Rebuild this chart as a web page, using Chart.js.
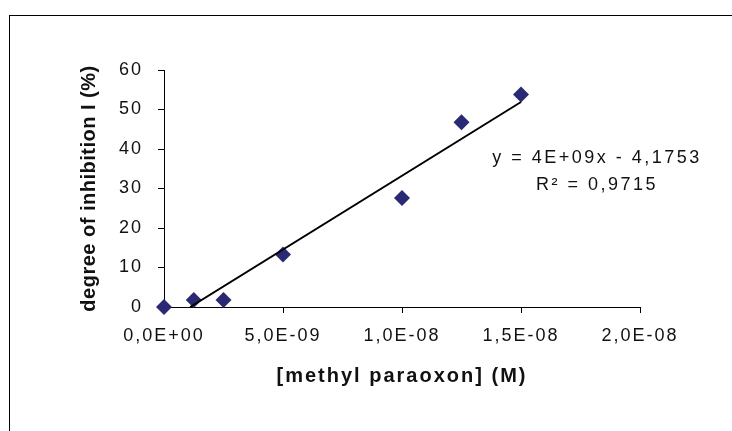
<!DOCTYPE html>
<html>
<head>
<meta charset="UTF-8">
<title>Methyl paraoxon inhibition</title>
<script src="https://cdn.jsdelivr.net/npm/chart.js"></script>
<style>
    body { margin: 0; padding: 0; background: #fff; }
    #wrap { width: 732px; height: 431px; }
</style>
</head>
<body>
<div id="wrap"><canvas id="chart" width="732" height="431"></canvas></div>
<script>
    // measured points
    const concentration = [0, 1.25e-9, 2.5e-9, 5e-9, 1e-8, 1.25e-8, 1.5e-8];
    const inhibition = [0, 1.8, 1.8, 13.3, 27.6, 46.8, 53.8];

    // trendline ends (clipped at y = 0)
    const trendX = [1.1e-9, 1.5e-8];
    const trendY = [0, 51.9];

    const xTicks = [0, 5e-9, 1e-8, 1.5e-8, 2e-8];
    const yTicks = [0, 10, 20, 30, 40, 50, 60];
    const equation = ['y = 4E+09x - 4,1753', 'R² = 0,9715'];
    const yTitle = 'degree of inhibition I (%)';

    const FONT = "'Liberation Sans', Arial, sans-serif";

    function sci(v) {
        // 5e-9 -> "5,0E-09"
        let [m, e] = v.toExponential(1).split('e');
        let n = parseInt(e, 10);
        let sign = n < 0 ? '-' : '+';
        return m.replace('.', ',') + 'E' + sign + String(Math.abs(n)).padStart(2, '0');
    }

    const extras = {
        id: 'extras',
        beforeLayout(chart) { chart.ctx.letterSpacing = '2px'; },
        beforeDraw(chart) {
            const ctx = chart.ctx;
            ctx.letterSpacing = '2px';
            // outer frame
            ctx.save();
            ctx.strokeStyle = '#000';
            ctx.lineWidth = 1;
            ctx.strokeRect(9.5, 15.5, 800, 500);
            ctx.restore();
        },
        afterDraw(chart) {
            const ctx = chart.ctx;
            const area = chart.chartArea;
            ctx.save();
            ctx.fillStyle = '#111';
            ctx.textAlign = 'center';
            ctx.textBaseline = 'middle';

            // trendline equation
            ctx.letterSpacing = '2.5px';
            ctx.font = '18px ' + FONT;
            ctx.fillText(equation[0], 597, 158);
            ctx.fillText(equation[1], 597, 185);

            // y axis title, tighter than the tick labels
            ctx.letterSpacing = '0.5px';
            ctx.font = 'bold 20px ' + FONT;
            ctx.translate(89, (area.top + area.bottom) / 2);
            ctx.rotate(-Math.PI / 2);
            ctx.fillText(yTitle, 0, 0);
            ctx.restore();
        }
    };

    new Chart(document.getElementById('chart'), {
        type: 'scatter',
        data: {
            datasets: [{
                label: 'inhibition',
                data: concentration.map((x, i) => ({x: x, y: inhibition[i]})),
                pointStyle: 'rectRot',
                pointRadius: 8,
                pointHoverRadius: 8,
                backgroundColor: '#2a2a74',
                borderColor: '#2a2a74',
                borderWidth: 0,
                clip: false,
                order: 2
            }, {
                label: 'trend',
                data: trendX.map((x, i) => ({x: x, y: trendY[i]})),
                showLine: true,
                pointRadius: 0,
                borderColor: '#000',
                borderWidth: 2,
                order: 1
            }]
        },
        options: {
            responsive: false,
            animation: false,
            events: [],
            layout: { padding: { left: 9, right: 92, top: 70, bottom: 0 } },
            plugins: { legend: { display: false }, tooltip: { enabled: false } },
            scales: {
                x: {
                    type: 'linear',
                    min: 0,
                    max: 2e-8,
                    afterBuildTicks: (s) => { s.ticks = xTicks.map(v => ({value: v})); },
                    afterFit: (s) => { s.height = 124; },
                    grid: { drawOnChartArea: false, tickLength: 6, color: '#000' },
                    border: { color: '#000' },
                    ticks: {
                        padding: 12,
                        color: '#111',
                        font: { family: FONT, size: 18 },
                        maxRotation: 0,
                        callback: (v) => sci(v)
                    },
                    title: {
                        display: true,
                        text: '[methyl paraoxon] (M)',
                        color: '#111',
                        font: { family: FONT, size: 20, weight: 'bold' },
                        padding: { top: 0, bottom: 43 }
                    }
                },
                y: {
                    min: 0,
                    max: 60,
                    afterBuildTicks: (s) => { s.ticks = yTicks.map(v => ({value: v})); },
                    afterFit: (s) => { s.width = 155; },
                    grid: { drawOnChartArea: false, tickLength: 6, color: '#000' },
                    border: { color: '#000' },
                    ticks: {
                        padding: 15,
                        color: '#111',
                        font: { family: FONT, size: 18 }
                    }
                }
            }
        },
        plugins: [extras]
    });
</script>
</body>
</html>
